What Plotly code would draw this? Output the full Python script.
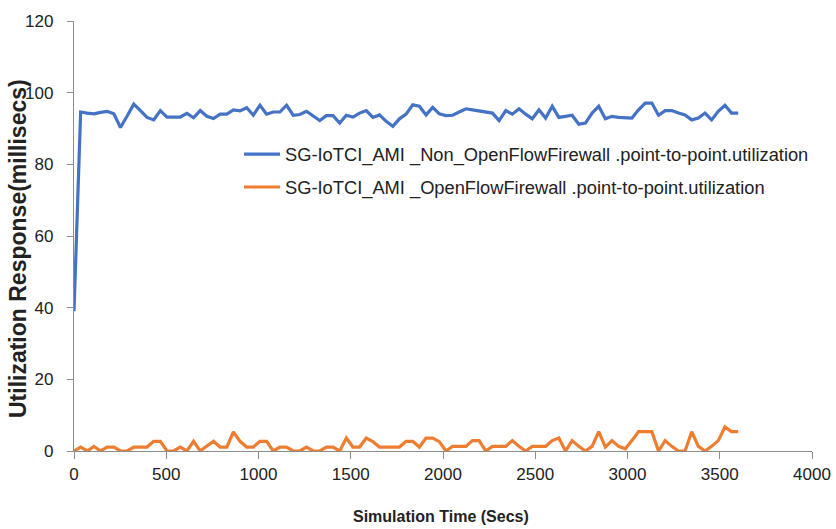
import plotly.graph_objects as go

# simulation time, one sample every 36 s
time_secs = [i * 36 for i in range(101)]

non_openflow_fw = [
    39.0, 94.6, 94.3, 94.1, 94.5, 94.8, 94.1, 90.3, 93.5, 96.8,
    95.0, 93.1, 92.4, 95.0, 93.2, 93.2, 93.2, 94.2, 93.0, 95.0,
    93.4, 92.8, 94.0, 94.0, 95.2, 94.9, 95.8, 93.7, 96.5, 94.0,
    94.6, 94.6, 96.5, 93.7, 93.9, 94.8, 93.4, 92.2, 93.6, 93.6,
    91.5, 93.7, 93.2, 94.3, 95.0, 93.1, 93.8, 92.0, 90.6, 92.7,
    94.0, 96.6, 96.2, 93.8, 95.9, 94.1, 93.6, 93.7, 94.6, 95.5,
    95.2, 94.9, 94.5, 94.3, 92.2, 95.0, 94.0, 95.5, 94.0, 92.7,
    95.2, 92.9, 96.2, 93.1, 93.4, 93.7, 91.2, 91.5, 94.3, 96.2,
    92.7, 93.4, 93.1, 93.1, 92.9, 95.2, 97.1, 97.1, 93.7, 95.0,
    95.0, 94.3, 93.8, 92.4, 92.9, 94.3, 92.4, 94.8, 96.5, 94.3,
    94.3,
]

openflow_fw = [
    0.0, 1.1, 0.0, 1.3, 0.0, 1.1, 1.1, 0.0, 0.0, 1.1,
    1.1, 1.1, 2.7, 2.7, 0.0, 0.0, 1.1, 0.0, 2.7, 0.0,
    1.4, 2.7, 1.1, 1.1, 5.3, 2.7, 1.1, 1.1, 2.7, 2.7,
    0.0, 1.1, 1.1, 0.0, 0.0, 1.1, 0.0, 0.0, 1.1, 1.1,
    0.0, 3.6, 1.1, 1.1, 3.6, 2.6, 1.1, 1.1, 1.1, 1.1,
    2.7, 2.7, 1.1, 3.6, 3.6, 2.6, 0.0, 1.3, 1.3, 1.3,
    2.9, 2.9, 0.0, 1.3, 1.3, 1.3, 2.9, 1.3, 0.0, 1.3,
    1.3, 1.3, 2.9, 3.6, 0.0, 2.9, 1.3, 0.0, 1.3, 5.4,
    1.1, 2.9, 1.3, 0.6, 2.9, 5.4, 5.4, 5.4, 0.0, 2.9,
    1.3, 0.0, 0.0, 5.4, 1.3, 0.0, 1.3, 2.9, 6.7, 5.4,
    5.4,
]

series_names = [
    "SG-IoTCI_AMI _Non_OpenFlowFirewall .point-to-point.utilization",
    "SG-IoTCI_AMI _OpenFlowFirewall .point-to-point.utilization",
]

FONT = "Liberation Sans, Arial, sans-serif"
INK = "#222222"

fig = go.Figure()
fig.add_trace(go.Scatter(x=time_secs, y=non_openflow_fw, mode="lines",
                         name=series_names[0], legendgroup="a",
                         line=dict(color="#4472C4", width=3.2)))
fig.add_trace(go.Scatter(x=time_secs, y=openflow_fw, mode="lines",
                         name=series_names[1], legendgroup="b",
                         line=dict(color="#ED7D31", width=3.2)))

fig.update_layout(
    width=836, height=529,
    margin=dict(l=74, r=24, t=21, b=78, autoexpand=False),
    paper_bgcolor="white", plot_bgcolor="white",
    font=dict(family=FONT, size=16, color=INK),
    legend=dict(x=0.2236, y=0.733, xanchor="left", yanchor="top",
                bgcolor="rgba(0,0,0,0)", itemwidth=36, tracegroupgap=6,
                font=dict(family=FONT, size=18.3, color=INK)),
)
fig.add_annotation(text="<b>Utilization Response(millisecs)</b>",
                   xref="paper", yref="paper", x=-0.0759, y=0.472,
                   xanchor="center", yanchor="middle", textangle=-90,
                   showarrow=False, font=dict(family=FONT, size=23, color=INK))
fig.add_annotation(text="<b>Simulation Time (Secs)</b>",
                   xref="paper", yref="paper", x=0.497, y=-0.153,
                   xanchor="center", yanchor="middle",
                   showarrow=False, font=dict(family=FONT, size=16, color=INK))
fig.update_xaxes(range=[0, 4000], dtick=500, showgrid=False, zeroline=False,
                 showline=True, linecolor="#8c8c8c", linewidth=1.3,
                 ticks="outside", ticklen=7, tickcolor="#8c8c8c",
                 ticklabeloverflow="allow",
                 tickfont=dict(family=FONT, size=17, color=INK))
fig.update_yaxes(range=[0, 120], dtick=20, showgrid=False, zeroline=False,
                 showline=True, linecolor="#8c8c8c", linewidth=1.3,
                 ticks="outside", ticklen=6, tickcolor="#8c8c8c",
                 ticklabelstandoff=10,
                 tickfont=dict(family=FONT, size=17, color=INK))

# drop the page's default body margin so the figure fills the window
fig.write_html("out.html", config={"displayModeBar": False},
               post_script="document.body.style.margin='0';")
